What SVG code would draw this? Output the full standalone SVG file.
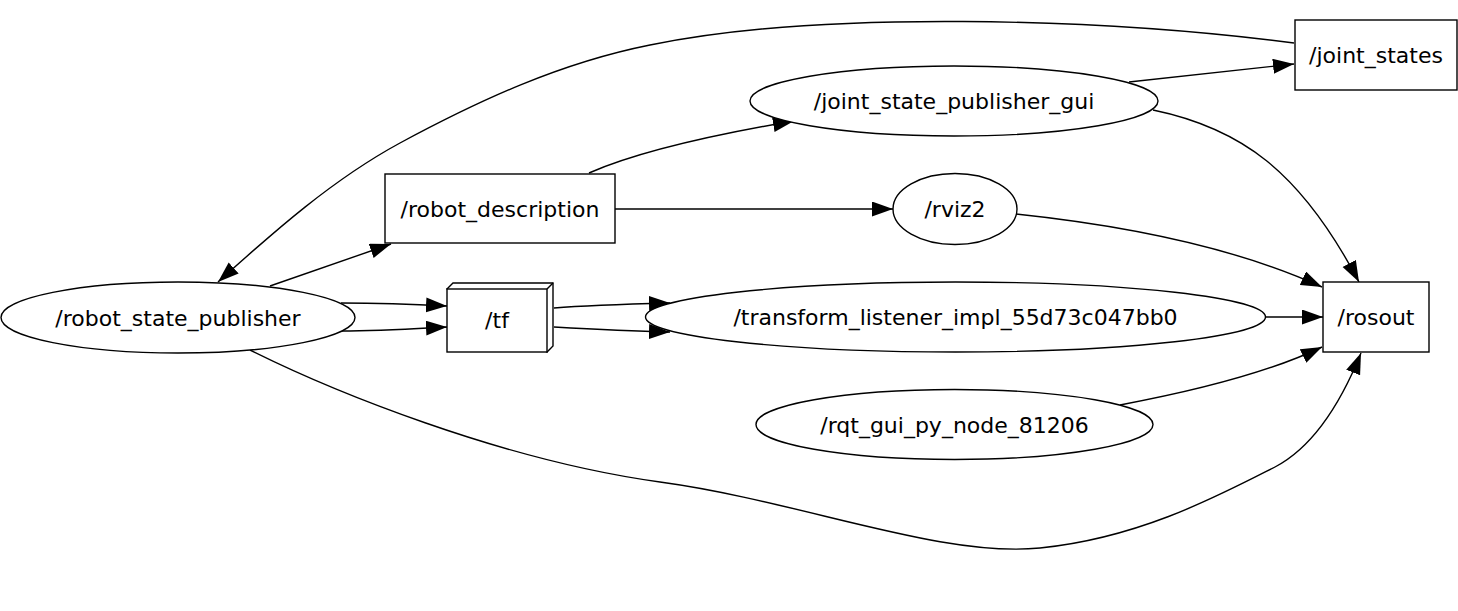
<svg xmlns="http://www.w3.org/2000/svg" width="1458" height="611" viewBox="0 0 1458 611">
<defs>
<marker id="arr" markerUnits="userSpaceOnUse" markerWidth="22" markerHeight="16" refX="21" refY="7.5" orient="auto">
<path d="M0,0 L21,7.5 L0,15 z" fill="#000"/>
</marker>
<style>
.n{fill:#fff;stroke:#000;stroke-width:1.4}
.t{font-family:"DejaVu Sans","Liberation Sans",sans-serif;font-size:22px;fill:#000;text-anchor:middle}
.e{fill:none;stroke:#000;stroke-width:1.4;marker-end:url(#arr)}
</style>
</defs>
<rect width="1458" height="611" fill="#fff"/>
<g id="connectors">
<path class="e" d="M1294,43 C1100,18 820,10 650,45 C560,63 480,100 400,143 C328,182 265,240 218,282"/>
<path class="e" d="M270,286 L391,244"/>
<path class="e" d="M589,173 C630,155 700,137 794,121"/>
<path class="e" d="M615,209 L893,209"/>
<path class="e" d="M1129,82 L1294,64"/>
<path class="e" d="M1153,110 C1240,128 1300,170 1359,282"/>
<path class="e" d="M1016,214 C1120,225 1230,245 1322,287"/>
<path class="e" d="M341,303 C380,303 410,304 447,306"/>
<path class="e" d="M341,331 C380,331 410,329 447,327"/>
<path class="e" d="M554,308 C590,305 630,304 670,303"/>
<path class="e" d="M554,327 C590,329 630,331 670,332"/>
<path class="e" d="M1266,317 L1323,317"/>
<path class="e" d="M1120,405 C1200,390 1270,372 1322,347"/>
<path class="e" d="M250,350 C330,390 500,460 660,482 C800,501 940,558 1040,548 C1140,538 1220,495 1275,467 C1315,446 1342,400 1361,353"/>
</g>
<g id="node-robot_state_publisher">
<ellipse class="n" cx="178" cy="317.5" rx="177" ry="35.5"/>
<text class="t" x="178" y="325.5">/robot_state_publisher</text>
</g>
<g id="node-robot_description">
<rect class="n" x="385" y="174" width="230" height="69"/>
<text class="t" x="500" y="217">/robot_description</text>
</g>
<g id="node-tf">
<path class="n" d="M447,289 L453,283 L553,283 L553,346 L547,352 Z"/>
<path fill="none" stroke="#000" stroke-width="1.4" d="M547,289 L553,283"/>
<rect class="n" x="447" y="289" width="100" height="63"/>
<text class="t" x="497" y="328">/tf</text>
</g>
<g id="node-joint_state_publisher_gui">
<ellipse class="n" cx="954" cy="101" rx="204" ry="35"/>
<text class="t" x="954" y="109">/joint_state_publisher_gui</text>
</g>
<g id="node-rviz2">
<ellipse class="n" cx="955" cy="209" rx="62" ry="35.5"/>
<text class="t" x="955" y="217">/rviz2</text>
</g>
<g id="node-transform_listener">
<ellipse class="n" cx="955.5" cy="317" rx="310" ry="35"/>
<text class="t" x="955.5" y="325">/transform_listener_impl_55d73c047bb0</text>
</g>
<g id="node-rqt_gui_py_node">
<ellipse class="n" cx="954.5" cy="424.5" rx="198.5" ry="35"/>
<text class="t" x="954.5" y="433">/rqt_gui_py_node_81206</text>
</g>
<g id="node-joint_states">
<rect class="n" x="1295" y="20" width="162" height="70"/>
<text class="t" x="1376" y="63">/joint_states</text>
</g>
<g id="node-rosout">
<rect class="n" x="1323" y="282" width="106" height="70"/>
<text class="t" x="1376" y="325">/rosout</text>
</g>
</svg>
